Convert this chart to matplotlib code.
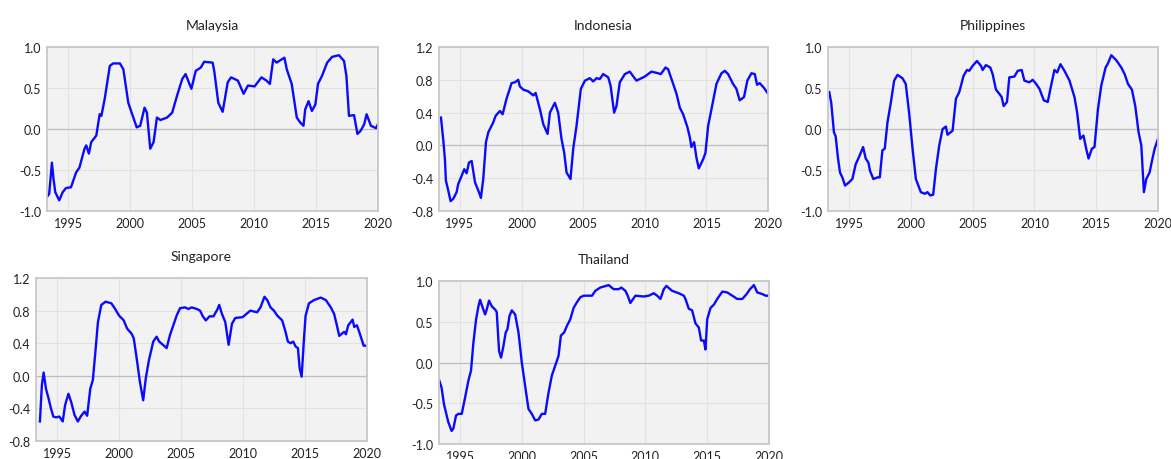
import matplotlib
matplotlib.use("Agg")
import matplotlib.pyplot as plt
from matplotlib.ticker import FormatStrFormatter

plt.rcParams['font.family'] = ['Lato', 'DejaVu Sans']
plt.rcParams['axes.unicode_minus'] = False

# values (decimal year, value)
malaysia_years = [1993.29, 1993.48, 1993.70, 1993.83, 1993.97, 1994.29, 1994.57, 1994.84, 1995.24, 1995.65,
                  1995.92, 1996.33, 1996.47, 1996.68, 1996.87, 1997.28, 1997.55, 1997.69, 1997.96, 1998.37,
                  1998.64, 1999.18, 1999.46, 1999.86, 2000.22, 2000.54, 2000.82, 2001.17, 2001.36, 2001.63,
                  2001.90, 2002.17, 2002.45, 2002.99, 2003.40, 2003.80, 2004.21, 2004.48, 2004.95, 2005.30,
                  2005.71, 2005.98, 2006.66, 2006.79, 2007.12, 2007.47, 2007.88, 2008.15, 2008.70, 2009.16,
                  2009.51, 2010.05, 2010.60, 2011.01, 2011.28, 2011.55, 2011.82, 2012.45, 2012.64, 2013.04,
                  2013.45, 2013.72, 2013.99, 2014.13, 2014.40, 2014.67, 2014.95, 2015.16, 2015.49, 2015.90,
                  2016.30, 2016.85, 2017.26, 2017.45, 2017.66, 2018.07, 2018.34, 2018.61, 2018.89, 2019.08,
                  2019.43, 2019.84, 2020.0]
malaysia_vals = [-0.83, -0.79, -0.41, -0.61, -0.77, -0.87, -0.77, -0.72, -0.71, -0.53,
                 -0.47, -0.24, -0.20, -0.30, -0.16, -0.08, 0.18, 0.16, 0.37, 0.77,
                 0.80, 0.80, 0.73, 0.32, 0.16, 0.02, 0.04, 0.26, 0.20, -0.24,
                 -0.16, 0.14, 0.11, 0.14, 0.20, 0.41, 0.61, 0.67, 0.49, 0.71,
                 0.75, 0.82, 0.81, 0.71, 0.32, 0.21, 0.57, 0.63, 0.59, 0.43,
                 0.53, 0.52, 0.63, 0.59, 0.55, 0.85, 0.81, 0.87, 0.73, 0.55,
                 0.14, 0.08, 0.04, 0.24, 0.34, 0.22, 0.30, 0.55, 0.65, 0.81,
                 0.88, 0.90, 0.83, 0.65, 0.16, 0.17, -0.06, -0.02, 0.06, 0.18,
                 0.04, 0.01, 0.06]

indonesia_years = [1993.46, 1993.65, 1993.78, 1993.86, 1994.05, 1994.24, 1994.46, 1994.73, 1994.86, 1995.14,
                   1995.35, 1995.54, 1995.73, 1995.95, 1996.22, 1996.54, 1996.70, 1996.89, 1997.11, 1997.30,
                   1997.70, 1997.89, 1998.24, 1998.46, 1998.78, 1999.19, 1999.46, 1999.73, 1999.86, 2000.14,
                   2000.54, 2000.95, 2001.14, 2001.49, 2001.76, 2002.11, 2002.30, 2002.70, 2002.97, 2003.24,
                   2003.46, 2003.65, 2003.97, 2004.19, 2004.46, 2004.81, 2005.14, 2005.54, 2005.81, 2006.08,
                   2006.35, 2006.62, 2007.03, 2007.22, 2007.51, 2007.70, 2007.97, 2008.38, 2008.78, 2009.32,
                   2010.00, 2010.54, 2011.08, 2011.30, 2011.68, 2011.89, 2012.30, 2012.57, 2012.84, 2013.11,
                   2013.46, 2013.65, 2013.78, 2014.00, 2014.19, 2014.38, 2014.73, 2014.92, 2015.14, 2015.46,
                   2015.81, 2016.22, 2016.49, 2016.76, 2017.16, 2017.43, 2017.70, 2018.05, 2018.32, 2018.65,
                   2018.92, 2019.11, 2019.32, 2019.68, 2020.0]
indonesia_vals = [0.34, 0.06, -0.17, -0.43, -0.55, -0.68, -0.65, -0.57, -0.47, -0.37,
                  -0.29, -0.34, -0.21, -0.19, -0.45, -0.57, -0.64, -0.41, 0.04, 0.16,
                  0.28, 0.36, 0.42, 0.38, 0.57, 0.76, 0.77, 0.80, 0.72, 0.68,
                  0.66, 0.61, 0.64, 0.44, 0.26, 0.14, 0.40, 0.52, 0.40, 0.08,
                  -0.09, -0.33, -0.41, -0.04, 0.24, 0.69, 0.79, 0.82, 0.78, 0.82,
                  0.81, 0.87, 0.83, 0.73, 0.40, 0.48, 0.77, 0.87, 0.90, 0.79,
                  0.84, 0.90, 0.88, 0.87, 0.95, 0.93, 0.75, 0.63, 0.46, 0.38,
                  0.22, 0.10, -0.02, 0.04, -0.15, -0.28, -0.17, -0.09, 0.24, 0.48,
                  0.75, 0.88, 0.91, 0.87, 0.75, 0.69, 0.55, 0.59, 0.79, 0.88,
                  0.87, 0.74, 0.76, 0.70, 0.63]

philippines_years = [1993.40, 1993.56, 1993.78, 1993.92, 1994.11, 1994.27, 1994.46, 1994.68, 1995.00, 1995.27,
                     1995.54, 1995.81, 1996.14, 1996.35, 1996.57, 1996.70, 1996.97, 1997.30, 1997.49, 1997.70,
                     1997.89, 1998.11, 1998.38, 1998.65, 1998.92, 1999.32, 1999.59, 1999.86, 2000.14, 2000.41,
                     2000.81, 2001.14, 2001.35, 2001.57, 2001.81, 2002.03, 2002.30, 2002.57, 2002.84, 2002.97,
                     2003.38, 2003.65, 2003.92, 2004.27, 2004.54, 2004.73, 2005.00, 2005.35, 2005.68, 2005.81,
                     2006.08, 2006.43, 2006.62, 2006.89, 2007.16, 2007.35, 2007.51, 2007.78, 2007.97, 2008.38,
                     2008.65, 2008.97, 2009.19, 2009.59, 2009.86, 2010.14, 2010.41, 2010.76, 2011.08, 2011.35,
                     2011.62, 2011.84, 2012.11, 2012.43, 2012.84, 2013.24, 2013.46, 2013.70, 2013.97, 2014.19,
                     2014.38, 2014.65, 2014.86, 2015.14, 2015.41, 2015.76, 2015.95, 2016.22, 2016.62, 2017.03,
                     2017.30, 2017.57, 2017.89, 2018.16, 2018.43, 2018.65, 2018.86, 2019.05, 2019.32, 2019.51,
                     2019.73, 2020.0]
philippines_vals = [0.45, 0.32, -0.04, -0.09, -0.36, -0.53, -0.59, -0.69, -0.65, -0.61,
                    -0.43, -0.34, -0.22, -0.36, -0.41, -0.51, -0.61, -0.59, -0.59, -0.26,
                    -0.24, 0.08, 0.32, 0.59, 0.66, 0.62, 0.55, 0.20, -0.24, -0.61,
                    -0.77, -0.79, -0.77, -0.81, -0.80, -0.49, -0.20, 0.00, 0.03, -0.07,
                    -0.02, 0.37, 0.45, 0.65, 0.72, 0.71, 0.77, 0.83, 0.77, 0.72,
                    0.78, 0.75, 0.67, 0.48, 0.43, 0.39, 0.28, 0.33, 0.63, 0.64,
                    0.71, 0.72, 0.59, 0.57, 0.60, 0.55, 0.49, 0.35, 0.33, 0.53,
                    0.72, 0.69, 0.79, 0.71, 0.59, 0.39, 0.20, -0.12, -0.08, -0.24,
                    -0.36, -0.24, -0.22, 0.24, 0.53, 0.75, 0.80, 0.90, 0.84, 0.75,
                    0.67, 0.55, 0.48, 0.28, -0.04, -0.20, -0.77, -0.61, -0.53, -0.39,
                    -0.24, -0.12]

singapore_years = [1993.62, 1993.78, 1993.92, 1994.11, 1994.32, 1994.51, 1994.70, 1994.92, 1995.19, 1995.46,
                   1995.65, 1995.92, 1996.14, 1996.41, 1996.68, 1996.95, 1997.22, 1997.43, 1997.68, 1997.89,
                   1998.08, 1998.30, 1998.57, 1998.92, 1999.38, 1999.65, 2000.00, 2000.38, 2000.65, 2001.00,
                   2001.19, 2001.41, 2001.68, 2001.95, 2002.16, 2002.41, 2002.76, 2003.03, 2003.24, 2003.70,
                   2003.84, 2004.11, 2004.38, 2004.65, 2004.92, 2005.32, 2005.59, 2005.86, 2006.27, 2006.54,
                   2006.76, 2007.00, 2007.30, 2007.62, 2007.95, 2008.08, 2008.30, 2008.57, 2008.84, 2009.11,
                   2009.38, 2009.97, 2010.59, 2011.14, 2011.41, 2011.73, 2011.95, 2012.22, 2012.49, 2012.76,
                   2013.16, 2013.43, 2013.62, 2013.84, 2014.05, 2014.24, 2014.43, 2014.57, 2014.73, 2014.92,
                   2015.05, 2015.32, 2015.73, 2016.27, 2016.68, 2017.08, 2017.35, 2017.57, 2017.76, 2018.16,
                   2018.30, 2018.49, 2018.84, 2018.97, 2019.19, 2019.46, 2019.73, 2020.0]
singapore_vals = [-0.56, -0.11, 0.04, -0.16, -0.28, -0.40, -0.50, -0.51, -0.50, -0.56,
                  -0.36, -0.22, -0.32, -0.48, -0.56, -0.49, -0.44, -0.49, -0.16, -0.05,
                  0.27, 0.66, 0.87, 0.91, 0.89, 0.83, 0.74, 0.68, 0.58, 0.52,
                  0.46, 0.23, -0.07, -0.30, -0.03, 0.19, 0.42, 0.48, 0.42, 0.36,
                  0.34, 0.50, 0.62, 0.74, 0.83, 0.84, 0.82, 0.84, 0.82, 0.80,
                  0.73, 0.68, 0.73, 0.73, 0.82, 0.87, 0.76, 0.66, 0.38, 0.64,
                  0.71, 0.72, 0.80, 0.78, 0.84, 0.97, 0.93, 0.84, 0.80, 0.74,
                  0.68, 0.54, 0.42, 0.40, 0.42, 0.36, 0.34, 0.09, -0.01, 0.46,
                  0.74, 0.89, 0.93, 0.96, 0.93, 0.84, 0.76, 0.62, 0.49, 0.54,
                  0.51, 0.62, 0.69, 0.60, 0.62, 0.50, 0.37, 0.37]

thailand_years = [1993.32, 1993.51, 1993.70, 1993.92, 1994.05, 1994.32, 1994.46, 1994.68, 1994.86, 1995.14,
                  1995.41, 1995.68, 1995.89, 1996.08, 1996.30, 1996.49, 1996.62, 1996.84, 1997.03, 1997.16,
                  1997.35, 1997.57, 1997.84, 1997.97, 1998.16, 1998.32, 1998.51, 1998.70, 1998.84, 1999.00,
                  1999.19, 1999.46, 1999.73, 2000.00, 2000.27, 2000.54, 2000.81, 2001.08, 2001.35, 2001.62,
                  2001.89, 2002.16, 2002.43, 2002.70, 2002.97, 2003.16, 2003.43, 2003.65, 2003.92, 2004.19,
                  2004.46, 2004.73, 2005.00, 2005.68, 2005.95, 2006.35, 2007.03, 2007.43, 2007.84, 2008.05,
                  2008.38, 2008.57, 2008.78, 2009.19, 2009.86, 2010.27, 2010.68, 2010.95, 2011.22, 2011.49,
                  2011.70, 2012.16, 2012.70, 2013.11, 2013.24, 2013.51, 2013.78, 2014.05, 2014.32, 2014.51,
                  2014.73, 2014.86, 2015.00, 2015.27, 2015.54, 2015.81, 2016.22, 2016.62, 2017.03, 2017.43,
                  2017.84, 2018.19, 2018.46, 2018.78, 2019.05, 2019.46, 2019.73, 2020.0]
thailand_vals = [-0.22, -0.31, -0.51, -0.65, -0.73, -0.84, -0.81, -0.65, -0.63, -0.63,
                 -0.43, -0.22, -0.10, 0.24, 0.53, 0.69, 0.77, 0.67, 0.59, 0.65,
                 0.76, 0.69, 0.65, 0.62, 0.14, 0.06, 0.20, 0.37, 0.41, 0.57,
                 0.64, 0.59, 0.37, 0.00, -0.29, -0.57, -0.63, -0.71, -0.70, -0.63,
                 -0.63, -0.37, -0.16, -0.04, 0.08, 0.33, 0.37, 0.45, 0.53, 0.67,
                 0.74, 0.80, 0.82, 0.82, 0.88, 0.92, 0.95, 0.90, 0.90, 0.92,
                 0.88, 0.82, 0.73, 0.82, 0.81, 0.82, 0.85, 0.82, 0.78, 0.90,
                 0.94, 0.88, 0.85, 0.82, 0.78, 0.66, 0.64, 0.48, 0.43, 0.27,
                 0.27, 0.16, 0.53, 0.67, 0.71, 0.78, 0.87, 0.86, 0.82, 0.78,
                 0.78, 0.84, 0.90, 0.95, 0.86, 0.84, 0.82, 0.82]

year_ticks = [1995, 2000, 2005, 2010, 2015, 2020]

panels = [
    ("Malaysia", malaysia_years, malaysia_vals, [0.0401, 0.5391, 0.2827, 0.3565], [-1.0, -0.5, 0.0, 0.5, 1.0]),
    ("Indonesia", indonesia_years, indonesia_vals, [0.3749, 0.5391, 0.2810, 0.3565], [-0.8, -0.4, 0.0, 0.4, 0.8, 1.2]),
    ("Philippines", philippines_years, philippines_vals, [0.7071, 0.5391, 0.2818, 0.3565], [-1.0, -0.5, 0.0, 0.5, 1.0]),
    ("Singapore", singapore_years, singapore_vals, [0.0307, 0.0391, 0.2827, 0.3543], [-0.8, -0.4, 0.0, 0.4, 0.8, 1.2]),
    ("Thailand", thailand_years, thailand_vals, [0.3749, 0.0326, 0.2818, 0.3543], [-1.0, -0.5, 0.0, 0.5, 1.0]),
]

fig = plt.figure(figsize=(11.71, 4.6), dpi=100)

for name, yrs, vals, pos, yticks in panels:
    ax = fig.add_axes(pos)
    ax.set_facecolor('#f2f2f2')
    ax.plot(yrs, vals, color='#0a0aff', lw=1.7)
    ax.set_xlim(1993.3, 2020.0)
    ax.set_ylim(yticks[0], yticks[-1])
    ax.set_xticks(year_ticks)
    ax.set_yticks(yticks)
    ax.yaxis.set_major_formatter(FormatStrFormatter('%.1f'))
    ax.grid(True, color='#e2e2e2', lw=0.8)
    ax.axhline(0, color='#bdbdbd', lw=0.9, zorder=1)
    ax.set_axisbelow(True)
    ax.tick_params(length=0, labelsize=9, colors='#222222', pad=4)
    for s in ax.spines.values():
        s.set_color('#c8c8c8')
        s.set_linewidth(1.3)
    ax.set_title(name, fontsize=10, pad=13, color='#222222')

fig.savefig("out.png", dpi=100)
